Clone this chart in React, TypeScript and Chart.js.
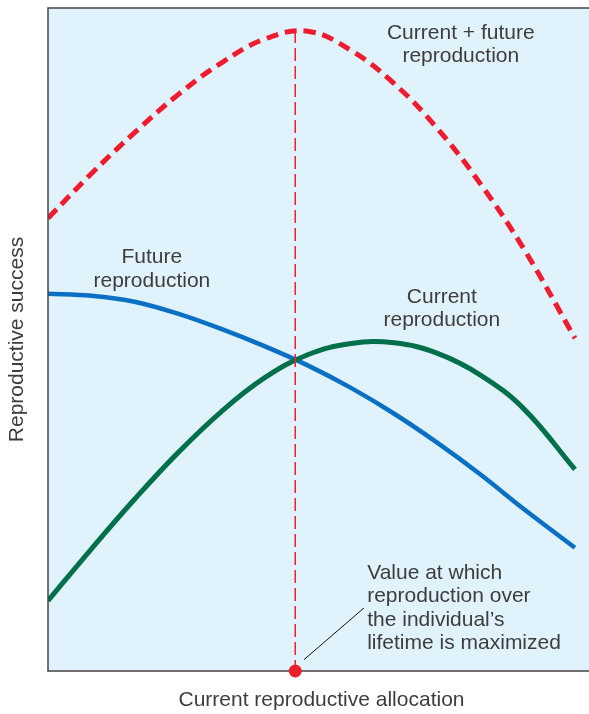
import React, { useEffect, useRef } from "react";
import { Chart, registerables } from "chart.js";

Chart.register(...registerables);

// Data in abstract units (x: allocation 0-100, y: success 0-100)
const allocation = [0, 8, 16, 24, 32, 40, 48, 56, 64, 72, 80, 88, 97.4];
const totalSuccess = [68.3, 75.0, 81.2, 86.9, 91.7, 95.3, 96.5, 93.6, 88.6, 81.8, 73.4, 63.6, 50.2];
const futureSuccess = [56.9, 56.6, 55.7, 53.9, 51.6, 49.0, 46.1, 42.7, 38.8, 34.4, 29.6, 24.4, 18.6];
const currentSuccess = [10.6, 18.4, 25.9, 32.9, 39.1, 44.2, 47.7, 49.4, 49.5, 47.9, 44.6, 39.5, 30.4];

const optimumX = 45.7;
const optimumY = 96.7;

const pointerX = [47.3, 58.4];
const pointerY = [1.7, 9.5];

const labelTexts = [
  ["Current + future", "reproduction"],
  ["Future", "reproduction"],
  ["Current", "reproduction"],
  ["Value at which", "reproduction over", "the individual\u2019s", "lifetime is maximized"],
];
const labelX = [76.3, 19.2, 72.8, 59.0];
const labelY = [96.2, 62.4, 56.4, 14.8];
const labelAlign = ["center", "center", "center", "left"];

const xTitle = "Current reproductive allocation";
const yTitle = "Reproductive success";

const zip = (xs: number[], ys: number[]) => xs.map((x, i) => ({ x, y: ys[i] }));

const FONT = '21px "Liberation Sans", Arial, sans-serif';
const TEXT = "#3d3d3d";

const decor = {
  id: "decor",
  beforeDatasetsDraw(chart: any) {
    const { ctx, chartArea: a } = chart;
    ctx.save();
    ctx.fillStyle = "#E0F2FC";
    ctx.fillRect(a.left, a.top, a.right - a.left, a.bottom - a.top);
    ctx.restore();
  },
  afterDatasetsDraw(chart: any) {
    const { ctx, chartArea: a } = chart;
    ctx.save();
    ctx.strokeStyle = "#444";
    ctx.lineWidth = 1.5;
    ctx.beginPath();
    ctx.moveTo(a.right, a.top);
    ctx.lineTo(a.left, a.top);
    ctx.lineTo(a.left, a.bottom);
    ctx.lineTo(a.right, a.bottom);
    ctx.stroke();
    ctx.restore();
  },
  afterDraw(chart: any) {
    const { ctx, chartArea: a, scales } = chart;
    const xs = scales.x, ys = scales.y;
    ctx.save();
    ctx.fillStyle = "#E8202A";
    ctx.beginPath();
    ctx.arc(xs.getPixelForValue(optimumX), ys.getPixelForValue(0), 6.5, 0, Math.PI * 2);
    ctx.fill();

    ctx.font = FONT;
    ctx.fillStyle = TEXT;
    ctx.textBaseline = "middle";
    const lh = 23.5;
    labelTexts.forEach((lines, i) => {
      ctx.textAlign = labelAlign[i] as CanvasTextAlign;
      const px = xs.getPixelForValue(labelX[i]);
      const py = ys.getPixelForValue(labelY[i]);
      lines.forEach((t, j) => ctx.fillText(t, px, py + j * lh));
    });
    ctx.textAlign = "center";
    ctx.fillText(xTitle, (a.left + a.right) / 2 + 3, a.bottom + 29);
    ctx.translate(17, (a.top + a.bottom) / 2);
    ctx.rotate(-Math.PI / 2);
    ctx.fillText(yTitle, 0, 0);
    ctx.restore();
  },
};

export default function App() {
  const ref = useRef<HTMLCanvasElement>(null);
  useEffect(() => {
    if (!ref.current) return;
    const chart = new Chart(ref.current, {
      type: "line",
      data: {
        datasets: [
          {
            label: "Optimum",
            data: [{ x: optimumX, y: optimumY }, { x: optimumX, y: 0 }],
            borderColor: "#F0202E",
            borderWidth: 1.5,
            borderDash: [13, 5],
            pointRadius: 0,
            tension: 0,
          },
          {
            label: "Pointer",
            data: zip(pointerX, pointerY),
            borderColor: "#111",
            borderWidth: 1,
            pointRadius: 0,
            tension: 0,
          },
          {
            label: "Current",
            data: zip(allocation, currentSuccess),
            borderColor: "#00704A",
            borderWidth: 5,
            pointRadius: 0,
            tension: 0.4,
          },
          {
            label: "Future",
            data: zip(allocation, futureSuccess),
            borderColor: "#0A70C4",
            borderWidth: 4.5,
            pointRadius: 0,
            cubicInterpolationMode: "monotone",
          },
          {
            label: "Current + future",
            data: zip(allocation, totalSuccess),
            borderColor: "#EE1C2E",
            borderWidth: 5,
            borderDash: [12, 7],
            borderCapStyle: "butt",
            pointRadius: 0,
            tension: 0.4,
          },
        ],
      },
      options: {
        animation: false,
        responsive: false,
        layout: { padding: { left: 48, top: 8, right: 0, bottom: 43 } },
        plugins: { legend: { display: false }, tooltip: { enabled: false } },
        scales: {
          x: { type: "linear", min: 0, max: 100, display: false },
          y: { type: "linear", min: 0, max: 100, display: false },
        },
      },
      plugins: [decor],
    });
    return () => chart.destroy();
  }, []);
  return (
    <div style={{ position: "fixed", left: 0, top: 0, width: 589, height: 714, background: "#fff" }}>
      <canvas ref={ref} width={589} height={714} />
    </div>
  );
}
